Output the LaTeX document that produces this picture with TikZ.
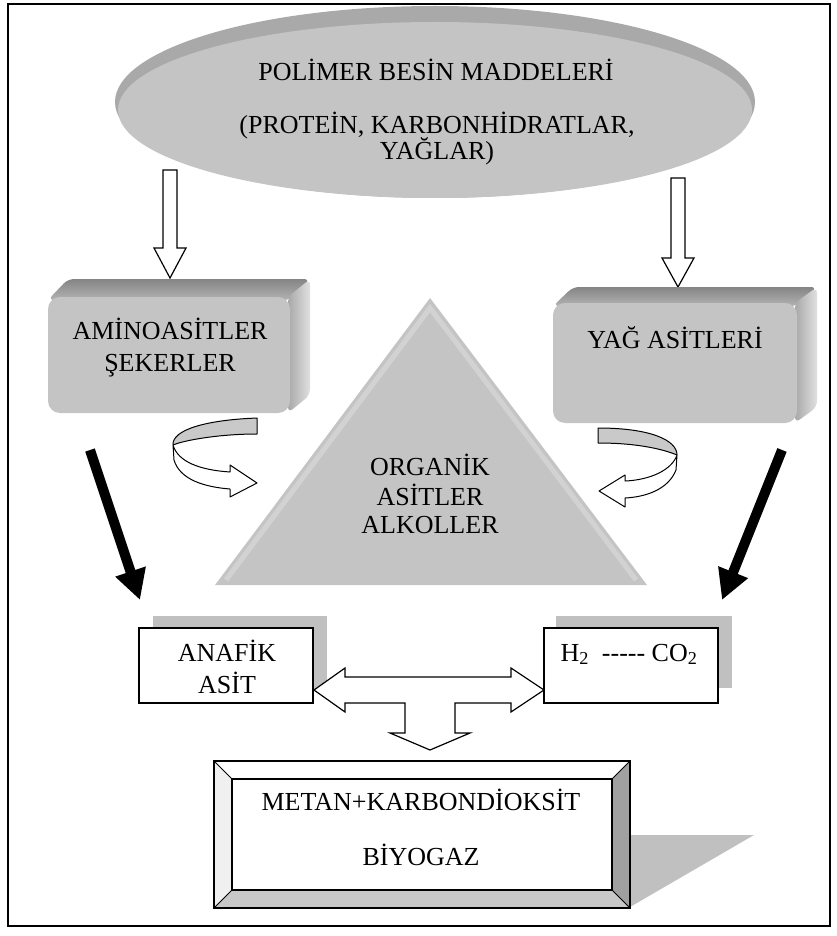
\documentclass[tikz,border=0pt]{standalone}
\usepackage{fontspec}
\setmainfont{Liberation Serif}
\usetikzlibrary{arrows.meta}
\definecolor{fillg}{HTML}{C4C4C4}
\definecolor{rimg}{HTML}{A9A9A9}
\definecolor{topg}{HTML}{A4A4A4}
\definecolor{sideg}{HTML}{B4B4B4}
\definecolor{shad}{HTML}{C0C0C0}
\definecolor{bevr}{HTML}{A0A0A0}
\definecolor{bevb}{HTML}{C8C8C8}
\definecolor{ribg}{HTML}{C9C9C9}
\begin{document}
\begin{tikzpicture}[x=1pt,y=-1pt,
  lbl/.style={inner sep=0pt, text height=16pt, text depth=0pt, font=\fontsize{26}{30}\selectfont},
  hollow/.style={draw=black, line width=1.2pt, fill=white, line join=miter},
  ribbon/.style={draw=black, line width=1pt, line join=round},
  bigarrow/.style={line width=10pt, -{Triangle[width=30pt,length=30pt]}},
  plainbox/.style={draw=black, line width=1.2pt, fill=white},
  topface/.style={top color=black!48, bottom color=black!30, rounded corners=6pt},
  sideface/.style={left color=black!34, right color=black!12, rounded corners=6pt}]
\useasboundingbox (0,0) rectangle (837,936);
\draw[line width=1.5pt] (8,4) rectangle (830,926);

% ellipse
\fill[rimg] (435,102) ellipse [x radius=320pt, y radius=96pt];
\fill[fillg] (435,110) ellipse [x radius=317pt, y radius=88pt];
\node[lbl] (pol) at (436,73) {POLİMER BESİN MADDELERİ};
\node[lbl] (pro) at (437,126) {(PROTEİN, KARBONHİDRATLAR,};
\node[lbl] (yag) at (437,152) {YAĞLAR)};

% hollow down arrows
\coordinate (la) at (170,170);
\coordinate (ra) at (678,178);
\draw[hollow] (163,170) -- (177,170) -- (177,248) -- (186,248) -- (170,278) -- (154,248) -- (163,248) -- cycle;
\draw[hollow] (671,178) -- (685,178) -- (685,258) -- (694,258) -- (678,287) -- (662,258) -- (671,258) -- cycle;

% left 3D box
\shade[topface] (48,300) -- (68,279) -- (310,279) -- (290,300) -- cycle;
\shade[sideface] (288,297) -- (310,279) -- (310,395) -- (288,413) -- cycle;
\fill[fillg, rounded corners=12pt] (48,297) rectangle (290,413);
\node[lbl] (ami) at (170,331) {AMİNOASİTLER};
\node[lbl] (sek) at (170,363) {ŞEKERLER};

% right 3D box
\shade[topface] (553,306) -- (573,287) -- (817,287) -- (797,306) -- cycle;
\shade[sideface] (795,303) -- (817,287) -- (817,407) -- (795,423) -- cycle;
\fill[fillg, rounded corners=12pt] (553,303) rectangle (797,423);
\node[lbl] (yas) at (675,340) {YAĞ ASİTLERİ};

% triangle
\fill[fillg] (430,298) -- (647,585) -- (215,585) -- cycle;
\draw[color=white, opacity=0.25, line width=5pt] (226,580) -- (430,308) -- (636,580);
\node[lbl] (org) at (430,467) {ORGANİK};
\node[lbl] (asi) at (430,497) {ASİTLER};
\node[lbl] (alk) at (430,525) {ALKOLLER};

% curved arrows
\draw[ribbon, fill=ribg] (257,418) .. controls (205,420) and (172,430) .. (173,445)
  .. controls (185,440) and (220,434) .. (257,434) -- cycle;
\draw[ribbon, fill=white] (173,445) -- (174,460) .. controls (180,480) and (205,487) .. (230,489)
  -- (230,497) -- (257,483) -- (230,465) -- (230,472) .. controls (200,470) and (178,462) .. (173,445) -- cycle;
\draw[ribbon, fill=ribg] (598,428) .. controls (650,428) and (677,440) .. (677,455)
  .. controls (665,450) and (640,443) .. (598,443) -- cycle;
\draw[ribbon, fill=white] (677,455) -- (676,470) .. controls (668,490) and (645,497) .. (625,498)
  -- (625,507) -- (599,491) -- (625,475) -- (625,481) .. controls (650,480) and (672,470) .. (677,455) -- cycle;

% black arrows
\coordinate (bl1) at (90,450);
\coordinate (bl2) at (140,600);
\coordinate (br1) at (782,450);
\coordinate (br2) at (722,600);
\draw[bigarrow] (bl1) -- (bl2);
\draw[bigarrow] (br1) -- (br2);

% small boxes
\fill[shad] (153,616) rectangle (327,690);
\draw[plainbox] (139,628) rectangle (313,703);
\node[lbl] (ana) at (227,653) {ANAFİK};
\node[lbl] (ast) at (227,685) {ASİT};
\fill[shad] (556,616) rectangle (732,688);
\draw[plainbox] (544,628) rectangle (718,703);
\node[lbl] (hco) at (629,653) {H\textsubscript{2}\ \ -{}-{}-{}-{}- CO\textsubscript{2}};

% T arrow
\draw[hollow] (314,690) -- (345,668) -- (345,677) -- (511,677) -- (511,668) -- (544,690) -- (511,712)
  -- (511,703) -- (455,703) -- (455,733) -- (470,733) -- (430,750) -- (390,733) -- (405,733)
  -- (405,703) -- (345,703) -- (345,712) -- cycle;

% bottom beveled box
\fill[shad] (630,835) -- (754,835) -- (630,907) -- cycle;
\fill[white] (214,761) -- (630,761) -- (612,779) -- (232,779) -- cycle;
\fill[white!94!black] (214,761) -- (232,779) -- (232,890) -- (214,908) -- cycle;
\fill[bevr] (630,761) -- (630,908) -- (612,890) -- (612,779) -- cycle;
\fill[bevb] (214,908) -- (630,908) -- (612,890) -- (232,890) -- cycle;
\draw[line width=1.2pt] (214,761) rectangle (630,908);
\draw[line width=1.2pt, fill=white] (232,779) rectangle (612,890);
\draw[line width=0.8pt] (214,761) -- (232,779) (630,761) -- (612,779) (214,908) -- (232,890) (630,908) -- (612,890);
\node[lbl] (met) at (421,802) {METAN+KARBONDİOKSİT};
\node[lbl] (biy) at (421,857) {BİYOGAZ};
\end{tikzpicture}
\end{document}
